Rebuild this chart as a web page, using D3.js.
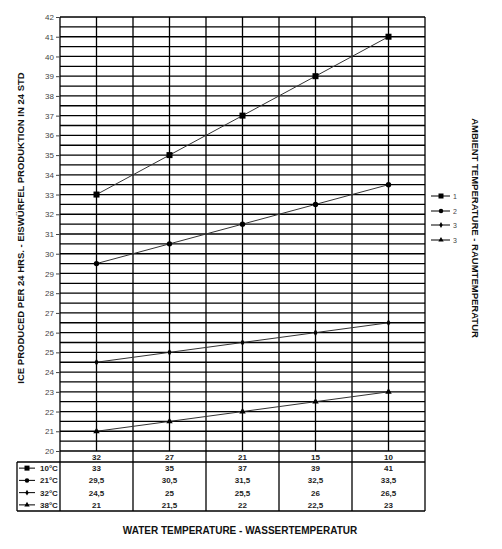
<!DOCTYPE html>
<html lang="en">
<head>
<meta charset="utf-8">
<title>ice production</title>
<style>
  * { margin: 0; padding: 0; }
  body { background: #fff; }
  svg { display: block; font-family: "Liberation Sans", Arial, sans-serif; }
  .grid line { stroke: #000; stroke-width: 1.3px; }
  path.trace { fill: none; stroke: #333; stroke-width: 1px; }
</style>
<script src="https://d3js.org/d3.v7.min.js"></script>
</head>
<body>
<div id="chart"></div>
<script>
  // water temperature categories (x axis)
  var waterTemps = ["32", "27", "21", "15", "10"];
  // ambient temperatures (series)
  var seriesNames = ["10°C", "21°C", "32°C", "38°C"];
  var legendNames = ["1", "2", "3", "3"];
  var markers = ["square", "circle", "dot", "triangle"];
  var amb10 = [33, 35, 37, 39, 41];
  var amb21 = [29.5, 30.5, 31.5, 32.5, 33.5];
  var amb32 = [24.5, 25, 25.5, 26, 26.5];
  var amb38 = [21, 21.5, 22, 22.5, 23];
  var seriesValues = [amb10, amb21, amb32, amb38];
  var yTicks = d3.range(20, 43, 1);

  var width = 502, height = 549;
  var plotLeft = 60, plotRight = 425, plotTop = 17, plotBottom = 451;
  var tableLeft = 17, headerBottom = 462, tableBottom = 511;

  var svg = d3.select("#chart").append("svg")
    .attr("width", width).attr("height", height);

  var x = d3.scaleBand().domain(waterTemps).range([plotLeft, plotRight]).padding(0);
  var y = d3.scaleLinear().domain([20, 42]).range([plotBottom, plotTop]);
  var rowH = (tableBottom - headerBottom) / seriesNames.length;

  var grid = svg.append("g").attr("class", "grid");
  // horizontal grid every half degree
  grid.selectAll("line.h").data(d3.range(20, 42.01, 0.5)).join("line")
    .attr("x1", plotLeft).attr("x2", plotRight)
    .attr("y1", d => y(d)).attr("y2", d => y(d));
  // band edges run through the table
  var edges = waterTemps.map(d => x(d)).concat([plotRight]);
  grid.selectAll("line.e").data(edges).join("line")
    .attr("x1", d => d).attr("x2", d => d)
    .attr("y1", plotTop).attr("y2", tableBottom);
  // category centres
  grid.selectAll("line.c").data(waterTemps).join("line")
    .attr("x1", d => x(d) + x.bandwidth() / 2).attr("x2", d => x(d) + x.bandwidth() / 2)
    .attr("y1", plotTop).attr("y2", plotBottom);
  // table frame
  grid.append("line").attr("x1", tableLeft).attr("x2", plotRight).attr("y1", headerBottom).attr("y2", headerBottom);
  grid.append("line").attr("x1", tableLeft).attr("x2", plotRight).attr("y1", tableBottom).attr("y2", tableBottom);
  grid.append("line").attr("x1", tableLeft).attr("x2", tableLeft).attr("y1", headerBottom).attr("y2", tableBottom);

  // y axis
  var yAxis = d3.axisLeft(y).tickValues(yTicks).tickSize(4).tickPadding(2);
  var ya = svg.append("g").attr("transform", "translate(" + plotLeft + ",0)").call(yAxis);
  ya.select(".domain").remove();
  ya.selectAll(".tick line").attr("stroke", "#444");
  ya.selectAll("text").attr("font-size", 8).attr("fill", "#444")
    .attr("font-family", "'Liberation Sans', Arial, sans-serif");

  // category labels under the plot
  svg.selectAll("text.cat").data(waterTemps).join("text")
    .attr("x", d => x(d) + x.bandwidth() / 2).attr("y", (plotBottom + headerBottom) / 2 + 3)
    .attr("text-anchor", "middle").attr("font-size", 8).attr("font-weight", "bold")
    .attr("fill", "#222").text(d => d);

  function drawMarker(g, type, size) {
    if (type == "square") {
      g.append("rect").attr("x", -size).attr("y", -size).attr("width", size * 2).attr("height", size * 2).attr("fill", "#000");
    } else if (type == "circle") {
      g.append("circle").attr("r", size * 0.9).attr("fill", "#000");
    } else if (type == "dot") {
      g.append("path").attr("d", d3.symbol(d3.symbolDiamond, size * size * 1.6)).attr("fill", "#000");
    } else {
      g.append("path").attr("d", d3.symbol(d3.symbolTriangle, size * size * 2.0)).attr("fill", "#000");
    }
  }

  // series lines and markers
  var line = d3.line()
    .x((d, i) => x(waterTemps[i]) + x.bandwidth() / 2)
    .y(d => y(d));
  seriesValues.forEach(function(vals, s) {
    var g = svg.append("g");
    g.append("path").attr("class", "trace").attr("d", line(vals));
    vals.forEach(function(v, i) {
      var m = g.append("g").attr("transform",
        "translate(" + (x(waterTemps[i]) + x.bandwidth() / 2) + "," + y(v) + ")");
      drawMarker(m, markers[s], 3);
    });
  });

  // data table
  var fmt = v => String(v).replace(".", ",");
  seriesValues.forEach(function(vals, s) {
    var cy = headerBottom + rowH * (s + 0.5);
    var key = svg.append("g").attr("transform", "translate(27," + cy + ")");
    key.append("line").attr("x1", -8).attr("x2", 8).attr("stroke", "#000").attr("stroke-width", 1);
    drawMarker(key, markers[s], 2.5);
    svg.append("text").attr("x", 40).attr("y", cy + 3)
      .attr("font-size", 8).attr("font-weight", "bold").attr("fill", "#222").text(seriesNames[s]);
    svg.selectAll("text.v" + s).data(vals).join("text")
      .attr("x", (d, i) => x(waterTemps[i]) + x.bandwidth() / 2).attr("y", cy + 3)
      .attr("text-anchor", "middle").attr("font-size", 8).attr("font-weight", "bold")
      .attr("fill", "#222").text(d => fmt(d));
  });

  // legend on the right
  var legY = [196, 211, 225, 240];
  legendNames.forEach(function(n, s) {
    var g = svg.append("g").attr("transform", "translate(441," + legY[s] + ")");
    g.append("line").attr("x1", -10).attr("x2", 9).attr("stroke", "#000").attr("stroke-width", 1);
    drawMarker(g, markers[s], 2.5);
    g.append("text").attr("x", 12).attr("y", 3).attr("font-size", 7).attr("fill", "#444").text(n);
  });

  // titles
  svg.append("text").attr("x", 240).attr("y", 534).attr("text-anchor", "middle")
    .attr("font-size", 10).attr("font-weight", "bold").attr("fill", "#111")
    .text("WATER TEMPERATURE - WASSERTEMPERATUR");
  svg.append("text").attr("transform", "translate(24,228) rotate(-90)").attr("text-anchor", "middle")
    .attr("font-size", 9.5).attr("font-weight", "bold").attr("fill", "#111")
    .text("ICE PRODUCED PER 24 HRS. - EISWÜRFEL PRODUKTION IN 24 STD");
  svg.append("text").attr("transform", "translate(472,228) rotate(90)").attr("text-anchor", "middle")
    .attr("font-size", 9.5).attr("font-weight", "bold").attr("fill", "#111")
    .text("AMBIENT TEMPERATURE - RAUMTEMPERATUR");
</script>
</body>
</html>
